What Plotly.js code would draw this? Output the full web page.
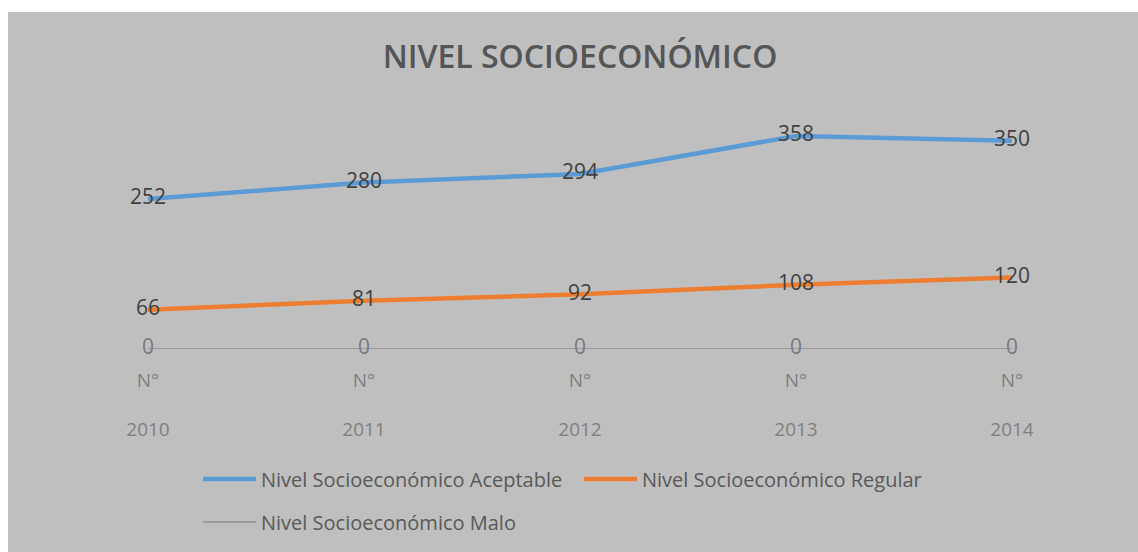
<!DOCTYPE html>
<html>
<head>
<meta charset="utf-8">
<script src="https://cdn.plot.ly/plotly-3.0.1.min.js"></script>
<style>
html,body{margin:0;padding:0;background:#ffffff;width:1138px;height:552px;overflow:hidden;}
#chart{position:absolute;left:8px;top:12px;width:1130px;height:540px;}
</style>
</head>
<body>
<div id="chart"></div>
<script>
const years = ["2010", "2011", "2012", "2013", "2014"];
const tickPrefix = "N°";
const aceptable = [252, 280, 294, 358, 350];
const regular = [66, 81, 92, 108, 120];
const malo = [0, 0, 0, 0, 0];
const seriesNames = [
  "Nivel Socioeconómico Aceptable",
  "Nivel Socioeconómico Regular",
  "Nivel Socioeconómico Malo"
];
const chartTitle = "NIVEL SOCIOECONÓMICO";

const FONT = "Open Sans, Noto Sans, sans-serif";

function makeTrace(vals, name, color, width, textColor, legend) {
  return {
    x: years, y: vals, name: name, type: "scatter", mode: "lines+text",
    line: {color: color, width: width},
    text: vals.map(String), textposition: "middle center",
    textfont: {family: FONT, size: 21, color: textColor},
    legend: legend, cliponaxis: false, hoverinfo: "skip"
  };
}

const data = [
  makeTrace(aceptable, seriesNames[0], "#5b9bd5", 4.5, "#404040", "legend"),
  makeTrace(regular, seriesNames[1], "#ed7d31", 4.5, "#404040", "legend"),
  makeTrace(malo, seriesNames[2], "#8f8f8f", 1.5, "#7a7a7a", "legend2")
];

const legendBase = {
  orientation: "h", xref: "container", yref: "container",
  xanchor: "left", yanchor: "middle",
  font: {family: FONT, size: 20, color: "#595959"},
  bgcolor: "rgba(0,0,0,0)", itemwidth: 53, itemclick: false, itemdoubleclick: false
};

const layout = {
  width: 1130, height: 540,
  paper_bgcolor: "#bfbfbf", plot_bgcolor: "#bfbfbf",
  margin: {l: 32, r: 18, t: 99, b: 203},
  title: {
    text: chartTitle, x: (580 - 8) / 1130, xref: "container", y: 1 - 45/540, yref: "container",
    xanchor: "center", yanchor: "middle",
    font: {family: FONT, size: 32, color: "#555555", weight: 600}
  },
  showlegend: true,
  legend: Object.assign({}, legendBase, {x: 190/1130, y: 1 - 467/540, entrywidth: 313}),
  legend2: Object.assign({}, legendBase, {x: 190/1130, y: 1 - 510/540}),
  xaxis: {
    type: "category", range: [-0.5, 4.5],
    tickvals: years, ticktext: years.map(y => tickPrefix + "<br> <br>" + y),
    showgrid: false, zeroline: false, showline: false, ticks: "",
    tickfont: {family: FONT, size: 19, color: "#7f7f7f"},
    ticklabelstandoff: 18, fixedrange: true
  },
  yaxis: {
    range: [0, 400], showgrid: false, zeroline: false, showline: false,
    showticklabels: false, ticks: "", fixedrange: true
  }
};

Plotly.newPlot("chart", data, layout, {displayModeBar: false, staticPlot: true});
</script>
</body>
</html>
